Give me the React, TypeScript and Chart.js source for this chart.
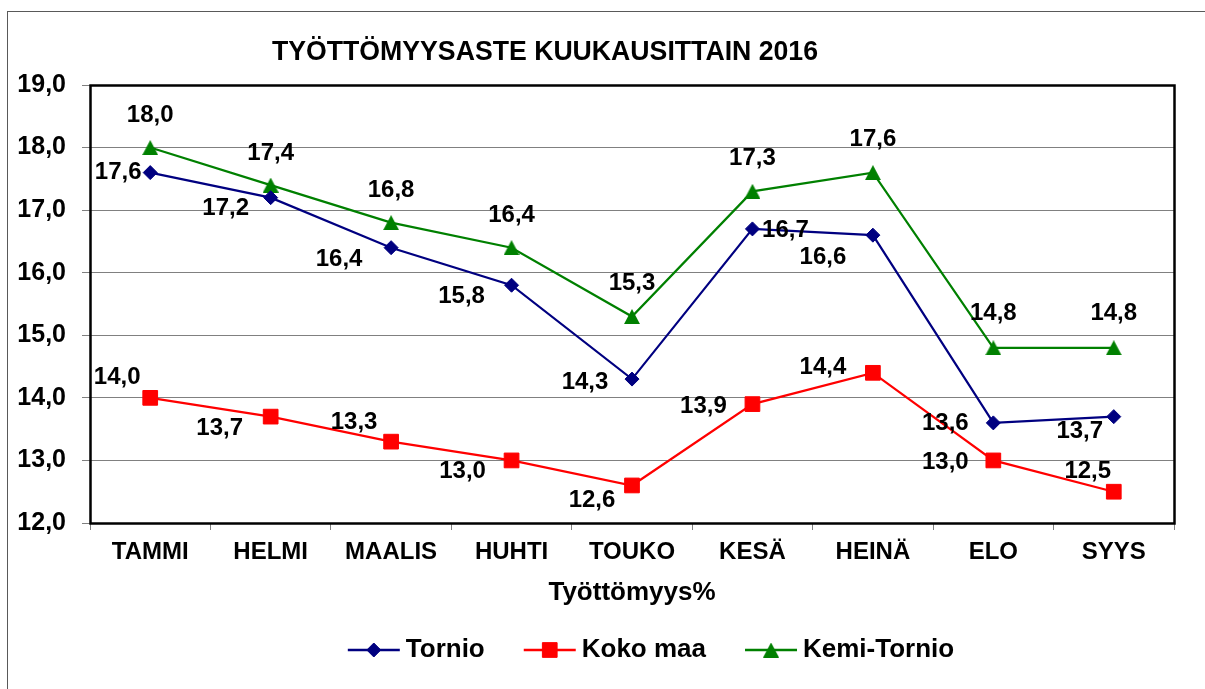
import React, { useEffect, useRef } from 'react';
import { Chart, registerables } from 'chart.js';
import { drawPoint } from 'chart.js/helpers';

Chart.register(...registerables);

const months = ['TAMMI', 'HELMI', 'MAALIS', 'HUHTI', 'TOUKO', 'KESÄ', 'HEINÄ', 'ELO', 'SYYS'];
const seriesNames = ['Tornio', 'Koko maa', 'Kemi-Tornio'];
const tornio = [17.6, 17.2, 16.4, 15.8, 14.3, 16.7, 16.6, 13.6, 13.7];
const kokoMaa = [14.0, 13.7, 13.3, 13.0, 12.6, 13.9, 14.4, 13.0, 12.5];
const kemiTornio = [18.0, 17.4, 16.8, 16.4, 15.3, 17.3, 17.6, 14.8, 14.8];
const yMin = 12;
const yMax = 19;
const yStep = 1;
const chartTitle = 'TYÖTTÖMYYSASTE KUUKAUSITTAIN 2016';
const xAxisTitle = 'Työttömyys%';

// label placement (dx, dy from the point), style only
const tornioLabelOffsets = [[-32, 0], [-45, 11], [-52, 12], [-50, 11], [-47, 3], [33, 1], [-50, 22], [-48, 0], [-34, 15]];
const kokoMaaLabelOffsets = [[-33, -20], [-51, 12], [-37, -19], [-49, 11], [-40, 15], [-49, 2], [-50, -5], [-48, 2], [-26, -20]];
const kemiTornioLabelOffsets = [[0, -32], [0, -32], [0, -32], [0, -32], [0, -33], [0, -33], [0, -33], [0, -34], [0, -34]];

const FONT = '"Liberation Sans", Arial, sans-serif';

const fmt = (v: number) => v.toFixed(1).replace('.', ',');

const framePlugin = {
  id: 'frame',
  beforeDraw(chart: any) {
    const ctx = chart.ctx;
    ctx.save();
    ctx.fillStyle = '#ffffff';
    ctx.fillRect(0, 0, chart.width, chart.height);
    ctx.strokeStyle = '#595959';
    ctx.lineWidth = 1;
    ctx.strokeRect(7.5, 11.5, chart.width + 20, chart.height + 20);
    ctx.restore();
  },
  beforeDatasetsDraw(chart: any) {
    const { ctx, chartArea } = chart;
    ctx.save();
    ctx.strokeStyle = '#000000';
    ctx.lineWidth = 2.5;
    ctx.strokeRect(chartArea.left + 0.5, chartArea.top + 0.5, chartArea.right - chartArea.left, chartArea.bottom - chartArea.top);
    ctx.restore();
  },
};

const titlePlugin = {
  id: 'customTitle',
  afterDraw(chart: any) {
    const ctx = chart.ctx;
    ctx.save();
    ctx.font = `bold 28px ${FONT}`;
    ctx.fillStyle = '#000';
    ctx.textAlign = 'center';
    ctx.textBaseline = 'middle';
    const w = ctx.measureText(chartTitle).width;
    const sx = 546 / w;
    ctx.translate(545, 52);
    ctx.scale(sx, 1);
    ctx.fillText(chartTitle, 0, 0);
    ctx.restore();
  },
};

const dataLabelPlugin = {
  id: 'dataLabels',
  afterDatasetsDraw(chart: any) {
    const ctx = chart.ctx;
    ctx.save();
    ctx.font = `bold 24px ${FONT}`;
    ctx.fillStyle = '#000';
    ctx.textAlign = 'center';
    ctx.textBaseline = 'middle';
    chart.data.datasets.forEach((ds: any, i: number) => {
      const meta = chart.getDatasetMeta(i);
      meta.data.forEach((pt: any, j: number) => {
        const [dx, dy] = ds.labelOffsets[j];
        ctx.fillText(fmt(ds.data[j]), pt.x + dx, pt.y + dy);
      });
    });
    ctx.restore();
  },
};

const legendPlugin = {
  id: 'customLegend',
  afterDraw(chart: any) {
    const ctx = chart.ctx;
    ctx.save();
    ctx.font = `bold 26px ${FONT}`;
    const lineLen = 52;
    const gap = 6;
    const spacing = 39;
    const dsets = chart.data.datasets;
    const widths = dsets.map((d: any) => ctx.measureText(d.label).width);
    const total = widths.reduce((a: number, w: number) => a + lineLen + gap + w, 0) + spacing * (dsets.length - 1);
    let x = 651 - total / 2;
    const y = 650;
    dsets.forEach((d: any, i: number) => {
      ctx.strokeStyle = d.borderColor;
      ctx.lineWidth = 2.5;
      ctx.beginPath();
      ctx.moveTo(x, y);
      ctx.lineTo(x + lineLen, y);
      ctx.stroke();
      ctx.fillStyle = d.pointBackgroundColor;
      ctx.strokeStyle = d.pointBorderColor;
      ctx.lineWidth = 1;
      drawPoint(ctx, { pointStyle: d.pointStyle, radius: d.pointRadius, borderWidth: 1, rotation: 0 } as any, x + lineLen / 2, y);
      ctx.fillStyle = '#000';
      ctx.textAlign = 'left';
      ctx.textBaseline = 'middle';
      ctx.fillText(d.label, x + lineLen + gap, y);
      x += lineLen + gap + widths[i] + spacing;
    });
    ctx.restore();
  },
};

function makeTriangle(color: string) {
  const c = document.createElement('canvas');
  c.width = 16;
  c.height = 15;
  const g = c.getContext('2d')!;
  g.fillStyle = color;
  g.beginPath();
  g.moveTo(8, 0);
  g.lineTo(16, 15);
  g.lineTo(0, 15);
  g.closePath();
  g.fill();
  return c;
}

function makeDataset(label: string, data: number[], color: string, style: any, radius: number, offsets: number[][]) {
  return {
    label,
    data,
    borderColor: color,
    backgroundColor: color,
    pointBackgroundColor: color,
    pointBorderColor: color,
    pointStyle: style,
    pointRadius: radius,
    pointBorderWidth: 1,
    borderWidth: 2.2,
    tension: 0,
    fill: false,
    clip: false,
    labelOffsets: offsets,
  } as any;
}

export default function App() {
  const ref = useRef<HTMLCanvasElement>(null);

  useEffect(() => {
    if (!ref.current) return;
    const chart = new Chart(ref.current, {
      type: 'line',
      data: {
        labels: months,
        datasets: [
          makeDataset(seriesNames[0], tornio, '#000080', 'rectRot', 7, tornioLabelOffsets),
          makeDataset(seriesNames[1], kokoMaa, '#FF0000', 'rect', 10.4, kokoMaaLabelOffsets),
          makeDataset(seriesNames[2], kemiTornio, '#008000', makeTriangle('#008000'), 8, kemiTornioLabelOffsets),
        ],
      },
      options: {
        animation: false,
        responsive: false,
        devicePixelRatio: 1,
        events: [],
        layout: { padding: { top: 85, left: 0, right: 31, bottom: 76 } },
        plugins: {
          legend: { display: false },
          title: { display: false },
          tooltip: { enabled: false },
        },
        scales: {
          x: {
            offset: true,
            border: { display: false },
            grid: { offset: true, drawOnChartArea: false, drawTicks: true, tickLength: 7, color: '#808080' },
            ticks: { color: '#000', padding: 8, font: { family: FONT, size: 24, weight: 'bold' }, maxRotation: 0, autoSkip: false },
            title: { display: true, text: xAxisTitle, color: '#000', font: { family: FONT, size: 26, weight: 'bold' }, padding: { top: 0, bottom: 5 } },
            afterFit: (s: any) => { s.height = 90; },
          },
          y: {
            min: yMin,
            max: yMax,
            border: { display: false },
            grid: { color: '#808080', lineWidth: 1, drawTicks: true, tickLength: 8 },
            ticks: {
              stepSize: yStep,
              color: '#000',
              padding: 16,
              font: { family: FONT, size: 25, weight: 'bold' },
              callback: (v: any) => fmt(Number(v)),
            },
            afterFit: (s: any) => { s.width = 90; },
          },
        },
      } as any,
      plugins: [framePlugin, titlePlugin, dataLabelPlugin, legendPlugin],
    });
    return () => chart.destroy();
  }, []);

  return (
    <div style={{ position: 'fixed', left: 0, top: 0, width: 1205, height: 689, background: '#fff' }}>
      <canvas ref={ref} width={1205} height={689} style={{ display: 'block', width: 1205, height: 689 }} />
    </div>
  );
}
